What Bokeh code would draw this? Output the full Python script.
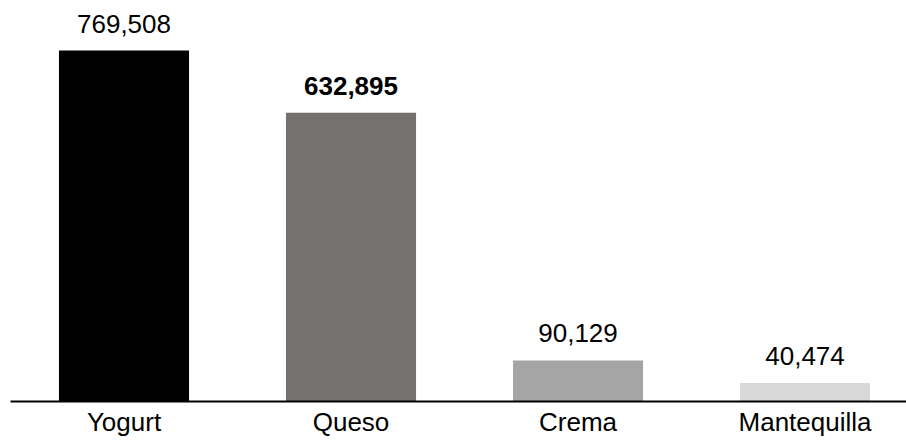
from bokeh.plotting import figure
from bokeh.models import ColumnDataSource, Range1d, FixedTicker
from bokeh.core.properties import value
from bokeh.embed import file_html
from bokeh.resources import INLINE

categories = ["Yogurt", "Queso", "Crema", "Mantequilla"]
volumes = [769508, 632895, 90129, 40474]
bar_colors = ["#000000", "#767171", "#A5A5A5", "#D9D9D9"]
label_styles = ["normal", "bold", "normal", "normal"]

xs = list(range(len(categories)))
src = ColumnDataSource(dict(
    x=xs, top=volumes, color=bar_colors,
    label=[f"{v:,}" for v in volumes], style=label_styles,
))

p = figure(width=906, height=444, output_backend="svg", toolbar_location=None,
           x_range=Range1d(-0.5, 3.447), y_range=Range1d(0, 879126),
           min_border_left=10, min_border_right=0, min_border_top=0, min_border_bottom=43)
p.outline_line_color = None
p.background_fill_color = "white"
p.border_fill_color = "white"
p.xgrid.visible = False
p.ygrid.visible = False
p.yaxis.visible = False

p.vbar(x="x", top="top", width=0.573, bottom=0, color="color", line_color=None, source=src)
p.text(x="x", y="top", text="label", source=src, text_align="center",
       text_baseline="alphabetic", y_offset=-27, text_font=value("Liberation Sans"),
       text_font_size="26px", text_font_style="style", text_color="#000000")

ax = p.xaxis[0]
ax.ticker = FixedTicker(ticks=xs)
ax.major_label_overrides = {i: c for i, c in enumerate(categories)}
ax.major_tick_line_color = None
ax.minor_tick_line_color = None
ax.major_tick_out = 0
ax.major_tick_in = 0
ax.axis_line_color = "#000000"
ax.axis_line_width = 2
ax.major_label_standoff = 5
ax.major_label_text_font = "Liberation Sans"
ax.major_label_text_font_size = "26px"
ax.major_label_text_color = "#000000"

open("out.html", "w").write(file_html(p, INLINE))
